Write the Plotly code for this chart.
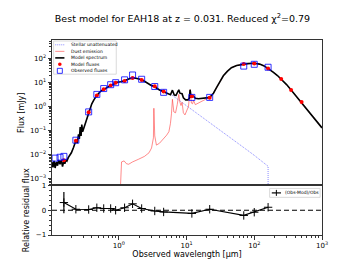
import plotly.graph_objects as go

# ---------------- data ----------------
model_wl = [0.103, 0.107, 0.111, 0.115, 0.120, 0.125, 0.130, 0.136, 0.142, 0.148, 0.155, 0.160, 0.166,
            0.172, 0.180, 0.190, 0.200, 0.215, 0.225, 0.233, 0.245, 0.255, 0.262, 0.270, 0.278, 0.285,
            0.293, 0.305, 0.320, 0.335, 0.350, 0.360, 0.400, 0.430, 0.475, 0.540, 0.600, 0.680, 0.760,
            0.850, 0.900, 0.950, 1.07, 1.22, 1.40, 1.60, 1.80, 2.00, 2.20, 2.50, 2.80, 3.06, 3.30, 3.50,
            4.00, 4.60, 5.20, 5.80, 6.20, 6.60, 7.00, 7.70, 8.00, 8.60, 9.00, 9.70, 10.5, 11.0, 11.3,
            11.7, 12.7, 13.5, 15.0, 17.0, 19.0, 21.0, 22.6, 25.0, 27.6, 31.0, 35.0, 40.0, 46.0, 55.0,
            65.0, 80.0, 100.0, 120.0, 140.0, 160.0, 190.0, 220.0, 250.0, 300.0, 350.0, 420.0, 500.0,
            650.0, 800.0, 1000.0]
model_flux = [0.005, 0.0030, 0.0055, 0.0028, 0.0050, 0.0035, 0.0060, 0.0040, 0.0060, 0.0032, 0.0055,
              0.0042, 0.0062, 0.0055, 0.0075, 0.0095, 0.012, 0.020, 0.030, 0.038, 0.030, 0.070, 0.045,
              0.14, 0.060, 0.18, 0.090, 0.13, 0.20, 0.27, 0.45, 0.58, 1.3, 1.9, 2.9, 4.3, 5.2, 6.4, 7.5,
              8.7, 9.6, 10.2, 10.8, 11.8, 14.0, 15.5, 15.0, 14.2, 13.0, 10.5, 8.6, 7.4, 7.0, 6.2,
              4.9, 4.1, 3.5, 3.1, 4.8, 3.0, 2.9, 5.0, 3.6, 3.4, 2.3, 1.9, 1.9, 2.2, 5.0,
              2.5, 2.7, 2.2, 2.1, 2.15, 2.25, 2.35, 2.6, 3.6, 6.0, 11.0, 19.0, 29.0, 41.0, 51.0,
              57.0, 61.0, 63.0, 58.0, 49.0, 39.0, 27.0, 19.5, 14.0, 8.2, 4.9, 2.6, 1.55,
              0.62, 0.29, 0.13]

dust_wl = [1.0, 1.05, 1.10, 1.20, 1.30, 1.40, 1.60, 1.97, 2.40, 2.80, 3.05, 3.25, 3.30, 3.40, 3.60,
           4.00, 4.60, 5.10, 5.50, 5.80, 6.00, 6.20, 6.50, 6.90, 7.30, 7.70, 8.00, 8.30, 8.60, 9.00,
           9.50, 10.0, 10.7, 11.3, 11.8, 12.3, 12.7, 13.5, 15.0, 17.0, 19.0, 21.0, 22.6, 25.0, 27.6,
           31.0, 35.0, 40.0, 46.0, 55.0, 65.0, 80.0, 100.0, 120.0, 140.0, 160.0, 190.0, 220.0,
           250.0, 300.0, 350.0, 420.0, 500.0, 650.0, 800.0, 1000.0]
dust_flux = [1e-5, 0.0006, 0.0050, 0.0055, 0.0042, 0.0040, 0.0050, 0.0065, 0.0085, 0.012, 0.019, 0.05,
             0.85, 0.06, 0.025, 0.03, 0.045, 0.065, 0.09, 0.20, 0.5, 2.0, 0.6, 0.55, 1.2, 3.2, 1.5,
             1.1, 1.5, 0.55, 0.45, 0.6, 1.0, 5.0, 1.4, 1.3, 1.8, 1.2, 1.4, 1.7, 2.0, 2.25, 2.55, 3.55,
             5.95, 11.0, 19.0, 29.0, 41.0, 51.0, 57.0, 61.0, 63.0, 58.0, 49.0, 39.0, 27.0, 19.5,
             14.0, 8.2, 4.9, 2.6, 1.55, 0.62, 0.29, 0.13]

stellar_wl = [0.103, 0.15, 0.20, 0.25, 0.30, 0.35, 0.40, 0.50, 0.60, 0.80, 1.0, 1.3, 1.6, 2.0, 2.5,
              3.0, 4.0, 5.0, 6.0, 8.0, 10.0, 15.0, 20.0, 30.0, 45.0, 60.0, 80.0, 100.0, 130.0,
              160.0, 160.5]
stellar_flux = [0.0045, 0.0045, 0.012, 0.06, 0.11, 0.45, 1.2, 3.8, 5.2, 8.6, 10.6, 12.8, 15.3, 14.0,
                10.3, 7.5, 4.8, 3.6, 3.1, 1.75, 1.1, 0.47, 0.26, 0.11, 0.047, 0.026, 0.015, 0.0094,
                0.0054, 0.0033, 1e-6]

obs_wl = [0.115, 0.136, 0.155, 0.233, 0.36, 0.475, 0.60, 0.76, 0.90, 1.22, 1.60, 2.18, 3.4, 4.6,
          12.0, 22.0, 70.0, 100.0, 160.0]
obs_flux = [0.0072, 0.0078, 0.0085, 0.040, 0.60, 3.2, 5.6, 8.1, 9.8, 12.9, 20.5, 13.6, 6.8, 3.9,
            2.4, 2.4, 48.0, 57.0, 43.0]

modpt_wl = [0.155, 0.233, 0.36, 0.475, 0.60, 0.76, 0.90, 1.22, 1.60, 2.18, 3.4, 4.6, 12.0, 22.0,
            70.0, 100.0, 160.0, 250.0, 350.0, 500.0]
modpt_flux = [0.0058, 0.038, 0.58, 2.9, 5.2, 7.5, 9.8, 11.6, 15.2, 12.6, 7.0, 4.2, 2.7, 2.3,
              58.0, 62.0, 38.0, 14.0, 4.9, 1.55]

res_wl = [0.155, 0.233, 0.36, 0.475, 0.60, 0.76, 0.90, 1.22, 1.60, 2.18, 3.4, 4.6, 12.0, 22.0,
          70.0, 100.0, 160.0]
res_val = [0.31, 0.04, 0.03, 0.10, 0.07, 0.07, 0.0, 0.10, 0.26, 0.07, -0.03, -0.07, -0.13, 0.04,
           -0.21, -0.08, 0.12]
res_err = [0.43, 0, 0, 0, 0, 0, 0, 0, 0, 0, 0, 0, 0, 0, 0, 0, 0]

x_tickvals = [1, 10, 100, 1000]
x_ticktext = ["10<sup>0</sup>", "10<sup>1</sup>", "10<sup>2</sup>", "10<sup>3</sup>"]
y_tickvals = [1e-3, 1e-2, 1e-1, 1, 10, 100]
y_ticktext = ["10<sup>−3</sup>", "10<sup>−2</sup>", "10<sup>−1</sup>", "10<sup>0</sup>",
              "10<sup>1</sup>", "10<sup>2</sup>"]
r_tickvals = [-1, 0, 1]
r_ticktext = ["−1", "0", "1"]

legend_labels = ["Stellar unattenuated", "Dust emission", "Model spectrum", "Model fluxes",
                 "Observed fluxes"]
res_label = "(Obs-Mod)/Obs"
title_text = "Best model for EAH18 at z = 0.031. Reduced χ<sup>2</sup>=0.79"

FONT = "DejaVu Sans"
FRAME = "#333333"
STELLAR_C = "rgba(60,60,255,0.75)"
DUST_C = "rgba(255,60,60,0.75)"

fig = go.Figure()

fig.add_trace(go.Scatter(x=stellar_wl, y=stellar_flux, mode="lines", name=legend_labels[0],
                         line=dict(color=STELLAR_C, width=0.8, dash="1px,1px"),
                         xaxis="x", yaxis="y", showlegend=False))
fig.add_trace(go.Scatter(x=dust_wl, y=dust_flux, mode="lines", name=legend_labels[1],
                         line=dict(color=DUST_C, width=0.8),
                         xaxis="x", yaxis="y", showlegend=False))
fig.add_trace(go.Scatter(x=model_wl, y=model_flux, mode="lines", name=legend_labels[2],
                         line=dict(color="black", width=1.6),
                         xaxis="x", yaxis="y", showlegend=False))
fig.add_trace(go.Scatter(x=modpt_wl, y=modpt_flux, mode="markers", name=legend_labels[3],
                         marker=dict(color="red", size=4),
                         xaxis="x", yaxis="y", showlegend=False))
fig.add_trace(go.Scatter(x=obs_wl, y=obs_flux, mode="markers", name=legend_labels[4],
                         marker=dict(symbol="square-open", color="rgba(0,0,255,0.8)", size=6,
                                     line=dict(width=1)),
                         xaxis="x", yaxis="y", showlegend=False))

fig.add_trace(go.Scatter(x=res_wl, y=res_val, mode="lines+markers", name=res_label,
                         line=dict(color="black", width=1.2),
                         marker=dict(symbol="cross-thin", size=6, color="black",
                                     line=dict(width=1, color="black")),
                         error_y=dict(type="data", array=res_err, visible=True, color="black",
                                      thickness=1.2, width=0),
                         xaxis="x2", yaxis="y2", showlegend=False))

x_minor = [k * 10 ** e for e in range(-1, 3) for k in range(2, 10)]
y_minor = [k * 10 ** e for e in range(-4, 3) for k in range(2, 10)]
r_minor = [-0.8, -0.6, -0.4, -0.2, 0.2, 0.4, 0.6, 0.8]

tickfont = dict(family=FONT, size=7, color="black")
axis_common = dict(showline=True, linecolor=FRAME, linewidth=1, mirror=True, showgrid=False,
                   zeroline=False)

fig.update_layout(
    width=349, height=262,
    margin=dict(l=43, r=35, t=32, b=29),
    paper_bgcolor="white", plot_bgcolor="white",
    font=dict(family=FONT, size=7, color="black"),
    title=dict(text=title_text, x=0.5, xanchor="center", y=1 - 11 / 262, yanchor="middle",
               yref="container", font=dict(family=FONT, size=9.5, color="black")),
    xaxis=dict(type="log", range=[-0.985, 3.0], domain=[0, 1], anchor="y",
               showticklabels=False, ticks="", **axis_common),
    yaxis=dict(type="log", range=[-3.28, 2.766], domain=[0.254, 1], anchor="x",
               tickmode="array", tickvals=y_tickvals, ticktext=y_ticktext, ticks="outside",
               ticklen=3.5, tickwidth=0.8, tickcolor=FRAME, tickfont=tickfont,
               minor=dict(tickmode="array", tickvals=y_minor, ticks="outside", ticklen=2,
                          tickwidth=0.6, tickcolor=FRAME, showgrid=False),
               title=dict(text="Flux [mJy]", font=dict(family=FONT, size=8), standoff=4),
               **axis_common),
    xaxis2=dict(type="log", range=[-0.985, 3.0], domain=[0, 1], anchor="y2",
                tickmode="array", tickvals=x_tickvals, ticktext=x_ticktext, ticks="outside",
                ticklen=3.5, tickwidth=0.8, tickcolor=FRAME, tickfont=tickfont,
                minor=dict(tickmode="array", tickvals=x_minor, ticks="outside", ticklen=2,
                           tickwidth=0.6, tickcolor=FRAME, showgrid=False),
                title=dict(text="Observed wavelength [μm]", font=dict(family=FONT, size=8),
                           standoff=2),
                **axis_common),
    yaxis2=dict(range=[-1, 1], domain=[0, 0.254], anchor="x2",
                tickmode="array", tickvals=r_tickvals, ticktext=r_ticktext, ticks="outside",
                ticklen=3.5, tickwidth=0.8, tickcolor=FRAME, tickfont=tickfont,
                minor=dict(tickmode="array", tickvals=r_minor, ticks="outside", ticklen=2,
                           tickwidth=0.6, tickcolor=FRAME, showgrid=False),
                title=dict(text="Relative residual flux", font=dict(family=FONT, size=8),
                           standoff=4),
                **axis_common),
    showlegend=False,
)

shapes = []
annotations = []

# zero line in residual panel
shapes.append(dict(type="line", xref="x2 domain", yref="y2", x0=0, x1=1, y0=0, y1=0,
                   line=dict(color="black", width=1.2, dash="5px,3px"), layer="below"))

# ---- legend of the SED panel (drawn as a matplotlib-style box) ----
shapes.append(dict(type="rect", xref="x domain", yref="y domain", x0=0.006, x1=0.238,
                   y0=0.765, y1=0.993, line=dict(color="#d0d0d0", width=0.8),
                   fillcolor="rgba(255,255,255,0.85)", layer="above"))
row_y = [0.967, 0.922, 0.877, 0.833, 0.788]
lx0, lx1, lxc, ltext = 0.012, 0.046, 0.029, 0.062
shapes.append(dict(type="line", xref="x domain", yref="y domain", x0=lx0, x1=lx1,
                   y0=row_y[0], y1=row_y[0],
                   line=dict(color=STELLAR_C, width=0.8, dash="1px,1px")))
shapes.append(dict(type="line", xref="x domain", yref="y domain", x0=lx0, x1=lx1,
                   y0=row_y[1], y1=row_y[1], line=dict(color=DUST_C, width=0.8)))
shapes.append(dict(type="line", xref="x domain", yref="y domain", x0=lx0, x1=lx1,
                   y0=row_y[2], y1=row_y[2], line=dict(color="black", width=1.6)))
shapes.append(dict(type="circle", xref="x domain", yref="y domain", xsizemode="pixel",
                   ysizemode="pixel", xanchor=lxc, yanchor=row_y[3], x0=-1.8, x1=1.8,
                   y0=-1.8, y1=1.8, fillcolor="red", line=dict(color="red", width=0)))
shapes.append(dict(type="rect", xref="x domain", yref="y domain", xsizemode="pixel",
                   ysizemode="pixel", xanchor=lxc, yanchor=row_y[4], x0=-2.5, x1=2.5,
                   y0=-2.5, y1=2.5, fillcolor="rgba(0,0,0,0)",
                   line=dict(color="rgba(0,0,255,0.8)", width=1)))
for lab, yy in zip(legend_labels, row_y):
    annotations.append(dict(text=lab, xref="x domain", yref="y domain", x=ltext, y=yy,
                            xanchor="left", yanchor="middle", showarrow=False,
                            font=dict(family=FONT, size=4.5, color="black")))

# ---- legend of the residual panel ----
shapes.append(dict(type="rect", xref="x2 domain", yref="y2 domain", x0=0.806, x1=0.993,
                   y0=0.76, y1=0.94, line=dict(color="#d0d0d0", width=0.8),
                   fillcolor="rgba(255,255,255,0.85)", layer="above"))
shapes.append(dict(type="line", xref="x2 domain", yref="y2 domain", x0=0.814, x1=0.848,
                   y0=0.85, y1=0.85, line=dict(color="black", width=1.2)))
shapes.append(dict(type="line", xref="x2 domain", yref="y2 domain", xsizemode="pixel",
                   ysizemode="pixel", xanchor=0.831, yanchor=0.85, x0=0, x1=0, y0=-3, y1=3,
                   line=dict(color="black", width=1)))
annotations.append(dict(text=res_label, xref="x2 domain", yref="y2 domain", x=0.856, y=0.85,
                        xanchor="left", yanchor="middle", showarrow=False,
                        font=dict(family=FONT, size=4.5, color="black")))

fig.update_layout(shapes=shapes, annotations=annotations)

fig.write_html("out.html")
